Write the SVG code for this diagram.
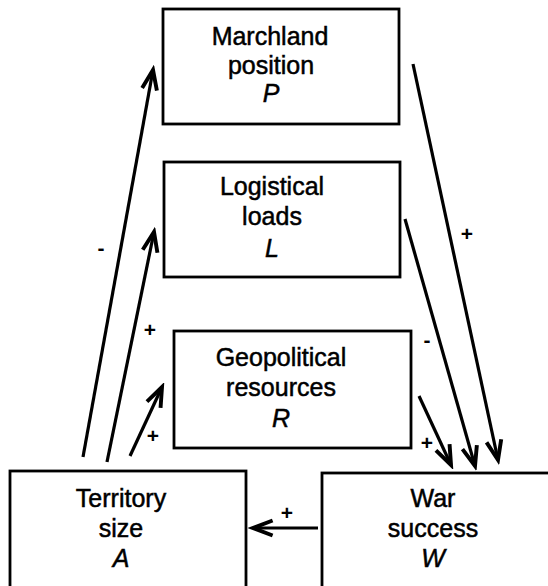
<svg xmlns="http://www.w3.org/2000/svg" width="548" height="586" viewBox="0 0 548 586">
<style>
.box{fill:#fff;stroke:#000;stroke-width:2.8}
.t{font-family:"Liberation Sans",Arial,sans-serif;font-size:25px;text-anchor:middle;fill:#000;stroke:#000;stroke-width:0.5}
.i{font-style:italic}
.c{stroke:#000;stroke-width:3.2;fill:none}
.lbl{font-family:"Liberation Sans",Arial,sans-serif;font-size:21px;font-weight:bold;text-anchor:middle;fill:#000}
</style>
<defs>
<marker id="ah" markerUnits="userSpaceOnUse" markerWidth="30" markerHeight="30" viewBox="-22 -10 26 20" refX="0" refY="0" orient="auto">
<path d="M-17,-6.5 L0,0 L-17,6.5" fill="none" stroke="#000" stroke-width="3.4" stroke-linejoin="miter"/>
</marker>
</defs>
<rect width="548" height="586" fill="#fff"/>
<g id="nodeP">
<rect class="box" x="163" y="9" width="236" height="115"/>
<text class="t" x="270" y="45">Marchland</text>
<text class="t" x="271" y="74">position</text>
<text class="t i" x="271" y="102">P</text>
</g>
<g id="nodeL">
<rect class="box" x="164" y="162" width="236" height="115"/>
<text class="t" x="272" y="195">Logistical</text>
<text class="t" x="272" y="225">loads</text>
<text class="t i" x="272" y="257">L</text>
</g>
<g id="nodeR">
<rect class="box" x="174" y="331" width="237" height="117"/>
<text class="t" x="281" y="366">Geopolitical</text>
<text class="t" x="281" y="396">resources</text>
<text class="t i" x="281" y="427">R</text>
</g>
<g id="nodeA">
<rect class="box" x="10" y="471" width="236" height="130"/>
<text class="t" x="121" y="507">Territory</text>
<text class="t" x="121" y="537">size</text>
<text class="t i" x="121" y="567">A</text>
</g>
<g id="nodeW">
<rect class="box" x="322" y="473" width="240" height="130"/>
<text class="t" x="433" y="507">War</text>
<text class="t" x="433" y="537">success</text>
<text class="t i" x="433" y="567">W</text>
</g>
<g id="connectors">
<line class="c" x1="83" y1="457" x2="153" y2="70" marker-end="url(#ah)"/>
<line class="c" x1="107" y1="462" x2="154" y2="232" marker-end="url(#ah)"/>
<line class="c" x1="130" y1="456" x2="162" y2="387" marker-end="url(#ah)"/>
<line class="c" x1="413" y1="64" x2="498" y2="460" marker-end="url(#ah)"/>
<line class="c" x1="405" y1="219" x2="475" y2="466" marker-end="url(#ah)"/>
<line class="c" x1="419" y1="396" x2="451" y2="465" marker-end="url(#ah)"/>
<line class="c" x1="318" y1="528" x2="253" y2="528" marker-end="url(#ah)"/>
<text class="lbl" x="101" y="255">-</text>
<text class="lbl" x="467" y="241">+</text>
<text class="lbl" x="150" y="337">+</text>
<text class="lbl" x="427" y="347">-</text>
<text class="lbl" x="153" y="443">+</text>
<text class="lbl" x="427" y="450">+</text>
<text class="lbl" x="287" y="520">+</text>
</g>
</svg>
